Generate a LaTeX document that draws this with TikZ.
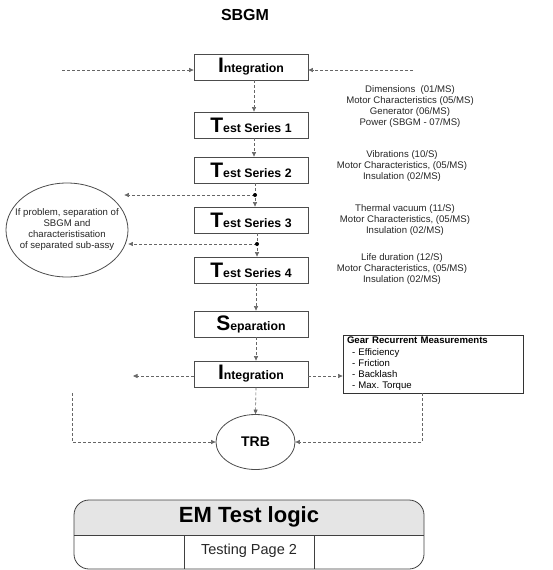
\documentclass[tikz,border=0pt]{standalone}
\usepackage{fontspec}
\setmainfont{Liberation Sans}
\usetikzlibrary{arrows.meta,shapes.geometric}

\tikzset{
  testbox/.style={draw=black!70, line width=0.8pt, minimum width=114pt, minimum height=26pt, inner sep=0pt, font=\bfseries},
  flow/.style={draw=black!60, dash pattern=on 3pt off 2pt, line width=0.6pt, -{Triangle[length=4.5pt,width=4pt]}},
  notes/.style={align=center, font=\fontsize{9.6}{11}\selectfont, text=black!85, inner sep=0pt},
}
\newcommand{\bigfirst}[2]{{\fontsize{21}{21}\selectfont #1}{\fontsize{12.3}{14}\selectfont #2}}

\begin{document}
\begin{tikzpicture}[x=1pt, y=-1pt]

  % Page frame
  \useasboundingbox (0,0) rectangle (553,570);

  % Title
  \node[font=\bfseries\fontsize{16}{18}\selectfont] (title) at (245,15) {SBGM};

  % Main chain of steps
  \node[testbox] (int1) at (251,67)  {\bigfirst{I}{ntegration}};
  \node[testbox] (ts1)  at (251,125) {\bigfirst{T}{est Series 1}};
  \node[testbox] (ts2)  at (251,170) {\bigfirst{T}{est Series 2}};
  \node[testbox] (ts3)  at (251,220) {\bigfirst{T}{est Series 3}};
  \node[testbox] (ts4)  at (251,270) {\bigfirst{T}{est Series 4}};
  \node[testbox] (sep)  at (251,324) {\bigfirst{S}{eparation}};
  \node[testbox] (int2) at (251,374) {\bigfirst{I}{ntegration}};

  % Test contents next to each series
  \node[notes] (n1) at (410,107) {Dimensions~~(01/MS)\\Motor Characteristics (05/MS)\\Generator (06/MS)\\Power (SBGM - 07/MS)};
  \node[notes] (n2) at (402,166) {Vibrations (10/S)\\Motor Characteristics, (05/MS)\\Insulation (02/MS)};
  \node[notes] (n3) at (405,220) {Thermal vacuum (11/S)\\Motor Characteristics, (05/MS)\\Insulation (02/MS)};
  \node[notes] (n4) at (402,269) {Life duration (12/S)\\Motor Characteristics, (05/MS)\\Insulation (02/MS)};

  % Problem branch
  \node[ellipse, draw=black!70, line width=0.8pt, minimum width=122pt, minimum height=94pt, inner sep=0pt] (prob) at (67,230) {};
  \node[notes] (probtext) at (prob.center)
    {If problem, separation of\\SBGM and\\characteristisation\\of separated sub-assy};

  % Gear measurements
  \node[draw=black!80, line width=0.8pt, text width=172pt, minimum height=58pt, inner xsep=4pt, inner ysep=1pt,
        align=left, font=\fontsize{9.6}{11.3}\selectfont] (gear) at (433,364)
    {\textbf{Gear Recurrent Measurements}\\\hspace*{5pt}- Efficiency\\\hspace*{5pt}- Friction\\\hspace*{5pt}- Backlash\\\hspace*{5pt}- Max.\ Torque};

  % Review board
  \node[ellipse, draw=black!70, line width=0.8pt, minimum width=79pt, minimum height=55pt, inner sep=0pt,
        font=\bfseries\fontsize{14}{16}\selectfont] (trb) at (255.5,442) {TRB};

  % Free ends and junctions
  \coordinate (inl) at (62,70);
  \coordinate (inr) at (413,70);
  \coordinate (outl) at (133,376);
  \coordinate (lfoot) at (72,393);
  \coordinate (dot1) at (255,195);
  \coordinate (dot2) at (257,244);

  % Connectors
  \draw[flow] (inl) -- (inl -| int1.west);
  \draw[flow] (inr) -- (inr -| int1.east);
  \draw[flow] ([xshift=3pt]int1.south) -- ([xshift=3pt]ts1.north);
  \draw[flow] ([xshift=3pt]ts1.south) -- ([xshift=3pt]ts2.north);
  \draw[flow] (ts2.south -| dot1) -- (ts3.north -| dot1);
  \draw[flow] (ts3.south -| dot2) -- (ts4.north -| dot2);
  \draw[flow] (dot1) -- ([xshift=-4pt]dot1 -| prob.east);
  \draw[flow] (dot2) -- (dot2 -| prob.east);
  \fill[black] (dot1) circle (2pt);
  \fill[black] (dot2) circle (2pt);
  \draw[flow] ([xshift=5pt]ts4.south) -- ([xshift=5pt]sep.north);
  \draw[flow] ([xshift=5pt]sep.south) -- ([xshift=5pt]int2.north);
  \draw[flow] (int2.west |- outl) -- (outl);
  \draw[flow] (int2.east |- outl) -- (outl -| gear.west);
  \draw[flow] ([xshift=5pt]int2.south) -- (trb.north);
  \draw[flow] (lfoot) |- (trb.west);
  \draw[flow] ([xshift=-11pt]gear.south) |- (trb.east);

  % Title block
  \fill[black!10] (74,535) [rounded corners=15pt] -- (74,500) -- (424,500) [sharp corners] -- (424,535) -- cycle;
  \draw[black!75, line width=0.8pt, rounded corners=15pt] (74,500) rectangle (424,569);
  \draw[black!75, line width=0.8pt] (74,535) -- (424,535);
  \draw[black!75, line width=0.8pt] (184,535) -- (184,569);
  \draw[black!75, line width=0.8pt] (314,535) -- (314,569);
  \node[font=\bfseries\fontsize{22}{24}\selectfont] (logic) at (249,517) {EM Test logic};
  \node[font=\fontsize{14.5}{16}\selectfont, text=black!85] (page) at (249,551) {Testing Page 2};

\end{tikzpicture}
\end{document}
